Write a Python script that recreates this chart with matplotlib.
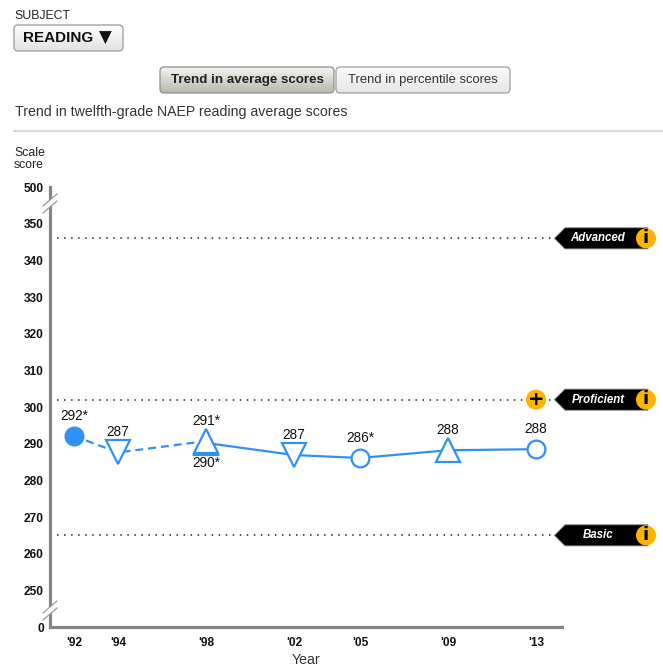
import matplotlib
matplotlib.use('Agg')
import numpy as np
import matplotlib.pyplot as plt
import matplotlib.transforms as mtransforms
from matplotlib.patches import Polygon, Circle, FancyBboxPatch
from matplotlib.lines import Line2D

plt.rcParams['font.family'] = ['Liberation Sans', 'DejaVu Sans']

# ---------------- data ----------------
dashed_years = [1992, 1994, 1998]
dashed_scores = [292.1, 287.6, 290.7]
dashed_labels = ['292*', '287', '291*']

solid_years = [1998, 2002, 2005, 2009, 2013]
solid_scores = [290.2, 286.9, 286.1, 288.2, 288.5]
solid_labels = ['290*', '287', '286*', '288', '288']

tick_years = [1992, 1994, 1998, 2002, 2005, 2009, 2013]
tick_year_labels = ["'92", "'94", "'98", "'02", "'05", "'09", "'13"]

y_ticks = [240, 250, 260, 270, 280, 290, 300, 310, 320, 330, 340, 350, 360]
y_tick_labels = ['0', '250', '260', '270', '280', '290', '300', '310',
                 '320', '330', '340', '350', '500']

level_names = ['Advanced', 'Proficient', 'Basic']
level_cuts = [346, 302, 265]

break_values = [355.5, 244.5]

# ---------------- styles ----------------
BLUE = '#3191f2'
YELLOW = '#fbb400'
GRAY = '#858585'
dashed_markers = ['o', 'v', '^']
dashed_fill = [BLUE, 'white', 'white']
solid_markers = ['^', 'v', 'o', '^', 'o']
solid_label_side = ['below', 'above', 'above', 'above', 'above']

W, H = 663, 670
fig = plt.figure(figsize=(W / 100, H / 100), dpi=100)

# overlay for page furniture in pixel coordinates
ov = fig.add_axes([0, 0, 1, 1])
ov.set_xlim(0, W)
ov.set_ylim(H, 0)
ov.axis('off')

def gradient_button(x0, y0, x1, y1, top, bottom, edge):
    patch = FancyBboxPatch((x0, y0), x1 - x0, y1 - y0,
                           boxstyle='round,pad=0,rounding_size=4',
                           fc='none', ec=edge, lw=0.9, zorder=3)
    ov.add_patch(patch)
    c0 = np.array(matplotlib.colors.to_rgb(top))
    c1 = np.array(matplotlib.colors.to_rgb(bottom))
    t = np.linspace(0, 1, 64)[:, None]
    img = (c0 * (1 - t) + c1 * t)[:, None, :]
    im = ov.imshow(img, extent=(x0, x1, y1, y0), aspect='auto', zorder=2,
                   interpolation='bilinear')
    im.set_clip_path(patch)

ov.text(14, 16, 'SUBJECT', fontsize=8.8, color='#222222', va='center', ha='left')
gradient_button(14, 25, 123, 51, '#ffffff', '#e2e2e2', '#9a9a9a')
ov.text(23, 38.5, 'READING', fontsize=11.0, fontweight='bold', va='center', ha='left',
        color='#111111')
ov.text(99, 38, '▼', fontsize=12, va='center', ha='left', color='#111111',
        family=['DejaVu Sans'])

gradient_button(160, 67, 334, 93, '#f4f4f2', '#b8b8aa', '#8f8f8f')
ov.text(247, 80.5, 'Trend in average scores', fontsize=9.6, fontweight='bold',
        va='center', ha='center', color='#222222', zorder=5)
gradient_button(336, 67, 510, 93, '#fbfbfb', '#e6e6e6', '#9f9f9f')
ov.text(423, 80.5, 'Trend in percentile scores', fontsize=9.4,
        va='center', ha='center', color='#333333', zorder=5)

ov.text(15, 112, 'Trend in twelfth-grade NAEP reading average scores',
        fontsize=10.2, color='#333333', va='center', ha='left')
ov.add_line(Line2D([14, 663], [131, 131], color='#dadada', lw=1.6))
ov.text(14, 159, 'Scale\nscore', fontsize=8.8, color='#222222', va='center', ha='left',
        linespacing=0.95)

# ---------------- main chart ----------------
ax = fig.add_axes([50 / W, 1 - 627 / H, 512 / W, 440 / H])
ax.patch.set_alpha(0)
ax.set_xlim(1990.91, 2014.18)
ax.set_ylim(240, 360)
for s in ['top', 'right']:
    ax.spines[s].set_visible(False)
for s in ['left', 'bottom']:
    ax.spines[s].set_color(GRAY)
    ax.spines[s].set_linewidth(2.3)
ax.set_xticks(tick_years)
ax.set_xticklabels(tick_year_labels, fontsize=8.6, fontweight='bold')
ax.set_yticks(y_ticks)
ax.set_yticklabels(y_tick_labels, fontsize=8.6, fontweight='bold')
ax.tick_params(axis='both', length=0, colors='#111111')
ax.tick_params(axis='y', pad=4.5)
ax.tick_params(axis='x', pad=7)
ax.set_xlabel('Year', fontsize=10.2, color='#333333', labelpad=3)

xr = ax.get_xlim()[1]

def px_trans(x0, y0):
    """Pixel-offset transform anchored at data point (x0, y0)."""
    return mtransforms.Affine2D() + mtransforms.ScaledTranslation(x0, y0, ax.transData)

# achievement level lines and badges
for name, cut in zip(level_names, level_cuts):
    tr = px_trans(xr, cut)
    ax.plot([ax.get_xlim()[0], xr], [cut, cut], transform=ax.transData,
            color='#222222', lw=1.1, ls=(0, (1, 3.6)), clip_on=False, zorder=1)
    badge = Polygon([(-7.5, 0), (3, 10.5), (86, 10.5), (86, -10.5), (3, -10.5)],
                    closed=True, fc='black', ec='#777777', lw=0.6,
                    transform=tr, clip_on=False, zorder=6)
    ax.add_patch(badge)
    ax.add_patch(Polygon([(-9, 12), (-6, 12), (-6, -12), (-9, -12)], closed=True,
                         fc='white', ec='none', transform=tr, clip_on=False, zorder=5))
    ax.text(36, 0, name, transform=tr, color='white', fontsize=8.3,
            fontweight='bold', fontstyle='italic', ha='center', va='center',
            clip_on=False, zorder=7)
    ax.add_patch(Circle((84, 0), 10, fc=YELLOW, ec='none', transform=tr,
                        clip_on=False, zorder=7))
    ax.text(84, 0.5, 'i', transform=tr, color='black', fontsize=13,
            fontweight='bold', ha='center', va='center', clip_on=False, zorder=8,
            family=['DejaVu Sans'])
    if name == 'Proficient':
        ax.add_patch(Polygon([(-37, 11), (-15, 11), (-15, -11), (-37, -11)],
                             closed=True, fc='white', ec='none', transform=tr,
                             clip_on=False, zorder=5))
        ax.add_patch(Circle((-26, 0), 10, fc=YELLOW, ec='none', transform=tr,
                            clip_on=False, zorder=7))
        ax.text(-26, 0.5, '+', transform=tr, color='black', fontsize=14,
                fontweight='bold', ha='center', va='center', clip_on=False,
                zorder=8, family=['DejaVu Sans'])

# axis break marks
x_left = ax.get_xlim()[0]
for bv in break_values:
    tr = px_trans(x_left, bv)
    ax.add_patch(Polygon([(-7, -10), (7, 2.5), (7, 9.5), (-7, -3)], closed=True,
                         fc='white', ec='none', transform=tr, clip_on=False, zorder=4))
    for dy in (-3.5, 3.5):
        ax.add_line(Line2D([-7, 7], [-6 + dy, 6 + dy], color='#9a9a9a', lw=0.9,
                           transform=tr, clip_on=False, zorder=5))

# series lines
ax.plot(dashed_years, dashed_scores, color=BLUE, lw=1.6, ls=(0, (3.6, 2.2)),
        zorder=2, clip_on=False)
ax.plot(solid_years, solid_scores, color=BLUE, lw=1.6, zorder=2, clip_on=False)

def marker_size(m):
    return 12.8 if m == 'o' else 17.0

for yr, sc, m in zip(solid_years, solid_scores, solid_markers):
    ax.plot([yr], [sc], marker=m, ms=marker_size(m), mfc='white', mec=BLUE,
            mew=1.6, ls='none', zorder=3, clip_on=False)
for yr, sc, m, fc in zip(dashed_years, dashed_scores, dashed_markers, dashed_fill):
    ax.plot([yr], [sc], marker=m, ms=marker_size(m), mfc=fc, mec=BLUE,
            mew=1.6, ls='none', zorder=4, clip_on=False)

# value labels
for yr, sc, lab in zip(dashed_years, dashed_scores, dashed_labels):
    ax.annotate(lab, (yr, sc), xytext=(0, 14.5), textcoords='offset points',
                ha='center', va='center', fontsize=9.8, color='#111111', zorder=6)
for yr, sc, lab, side in zip(solid_years, solid_scores, solid_labels, solid_label_side):
    dy = 14.5 if side == 'above' else -14.5
    ax.annotate(lab, (yr, sc), xytext=(0, dy), textcoords='offset points',
                ha='center', va='center', fontsize=9.8, color='#111111', zorder=6)

fig.savefig('out.png', dpi=100)
